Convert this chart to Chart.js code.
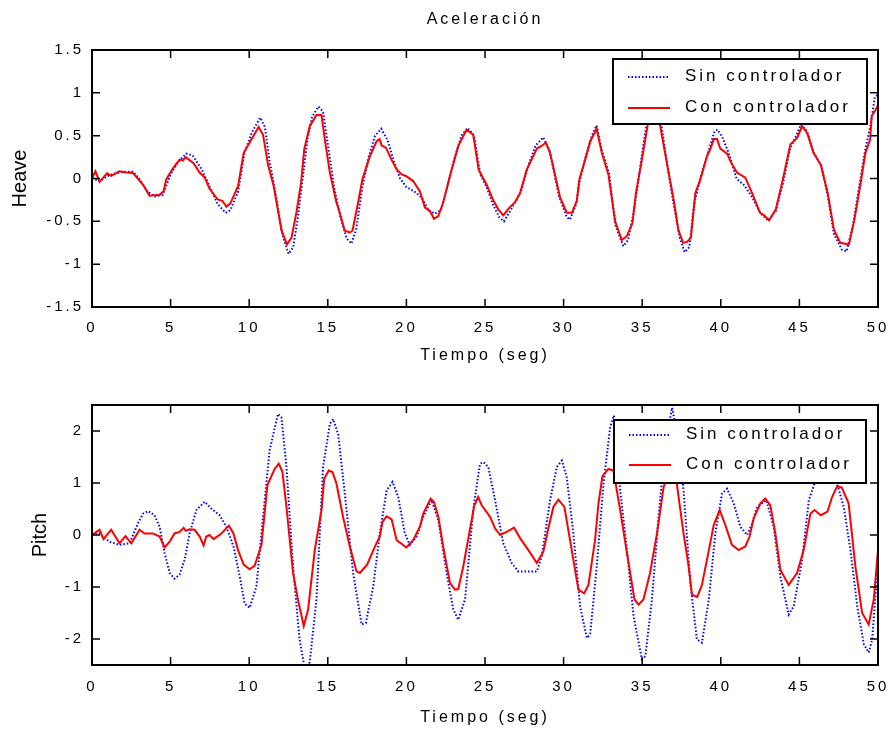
<!DOCTYPE html>
<html>
<head>
<meta charset="utf-8">
<script src="https://cdn.jsdelivr.net/npm/chart.js@4.4.1/dist/chart.umd.min.js"></script>
<style>
body { margin: 0; background: #fff; }
canvas { position: absolute; left: 0; }
#heaveChart { top: 0; }
#pitchChart { top: 370px; }
</style>
</head>
<body>
<canvas id="heaveChart" width="894" height="370"></canvas>
<canvas id="pitchChart" width="894" height="361"></canvas>
<script>
// tick labels
const timeTicks = [0, 5, 10, 15, 20, 25, 30, 35, 40, 45, 50];
const heaveTicks = [-1.5, -1, -0.5, 0, 0.5, 1, 1.5];
const pitchTicks = [-2, -1, 0, 1, 2];
const seriesLabels = ['Sin controlador', 'Con controlador'];

// HEAVE - sin controlador
const heaveSinT = [0, 0.5, 1, 1.5, 2, 2.6, 3, 3.5, 4, 4.5, 5, 5.5, 6, 6.4, 7, 7.5, 8, 8.5, 8.8, 9.3, 9.7, 10.2, 10.7, 11, 11.3, 11.7, 12.1, 12.5, 12.8, 13.1, 13.4, 13.7, 14, 14.4, 14.7, 15, 15.4, 15.8, 16.2, 16.5, 16.8, 17.2, 17.6, 18, 18.4, 18.8, 19.2, 19.6, 20, 20.5, 21, 21.4, 21.8, 22.2, 22.6, 23, 23.5, 23.9, 24.3, 24.7, 25.1, 25.5, 25.9, 26.2, 26.6, 27, 27.3, 27.7, 28.2, 28.7, 29.1, 29.7, 30.2, 30.4, 30.8, 31, 31.4, 31.8, 32.1, 32.4, 32.9, 33.3, 33.8, 34.1, 34.4, 34.7, 35, 35.4, 35.8, 36.2, 36.6, 37, 37.4, 37.7, 38, 38.3, 38.7, 39.1, 39.6, 39.8, 40.1, 40.5, 41, 41.5, 42, 42.5, 43, 43.5, 44, 44.4, 44.8, 45.1, 45.5, 45.9, 46.4, 46.8, 47.2, 47.7, 48, 48.4, 48.8, 49.2, 49.5, 49.8, 50];
const heaveSinY = [0, -0.03, 0.03, 0.06, 0.08, 0.08, 0, -0.15, -0.21, -0.19, 0.05, 0.2, 0.29, 0.27, 0.1, -0.1, -0.3, -0.4, -0.37, -0.15, 0.3, 0.55, 0.71, 0.6, 0.2, -0.2, -0.65, -0.88, -0.8, -0.45, 0, 0.45, 0.72, 0.84, 0.78, 0.4, -0.1, -0.45, -0.7, -0.76, -0.6, -0.1, 0.25, 0.5, 0.58, 0.45, 0.2, 0, -0.1, -0.15, -0.23, -0.37, -0.41, -0.37, -0.1, 0.2, 0.5, 0.59, 0.5, 0.05, -0.1, -0.3, -0.45, -0.5, -0.38, -0.25, -0.15, 0.12, 0.38, 0.48, 0.33, -0.2, -0.45, -0.48, -0.3, -0.05, 0.25, 0.5, 0.62, 0.35, 0.05, -0.55, -0.79, -0.72, -0.45, -0.1, 0.3, 0.78, 0.95, 0.65, 0.15, -0.3, -0.7, -0.86, -0.8, -0.3, 0, 0.25, 0.55, 0.57, 0.48, 0.3, 0, -0.08, -0.22, -0.4, -0.49, -0.38, -0.02, 0.35, 0.5, 0.63, 0.55, 0.3, 0.15, -0.2, -0.65, -0.83, -0.85, -0.55, -0.1, 0.35, 0.6, 0.95, 0.98];

// HEAVE - con controlador
const heaveConT = [0, 0.22, 0.48, 0.95, 1.22, 1.75, 2.18, 2.6, 3.24, 3.66, 4.3, 4.55, 4.72, 5.15, 5.57, 5.78, 5.96, 6.46, 6.85, 7.17, 7.48, 8, 8.29, 8.55, 8.8, 9.29, 9.65, 10.03, 10.6, 10.88, 11.2, 11.56, 12.05, 12.4, 12.69, 13, 13.3, 13.5, 13.85, 14.28, 14.6, 14.8, 15.13, 15.55, 15.76, 16.08, 16.4, 16.57, 16.93, 17.2, 17.68, 18.1, 18.3, 18.42, 18.7, 19.05, 19.38, 19.7, 20, 20.43, 20.86, 21.18, 21.5, 21.75, 22.03, 22.34, 22.77, 23.3, 23.83, 24.25, 24.6, 25.1, 25.5, 25.85, 26.16, 26.55, 26.9, 27.23, 27.65, 28.3, 28.6, 28.87, 29.14, 29.78, 30.2, 30.52, 30.84, 31, 31.37, 31.7, 32.1, 32.43, 32.85, 33.28, 33.7, 34.03, 34.38, 34.6, 34.98, 35.4, 35.8, 36.15, 36.57, 37, 37.3, 37.6, 37.85, 38.1, 38.38, 38.7, 39.12, 39.33, 39.55, 39.76, 39.97, 40.4, 40.67, 41.03, 41.56, 41.99, 42.5, 42.76, 43.07, 43.5, 43.9, 44.43, 44.85, 45.17, 45.5, 45.9, 46.36, 46.8, 47.2, 47.6, 48.15, 48.5, 48.9, 49.2, 49.5, 49.6, 49.9, 50];
const heaveConY = [0, 0.085, -0.04, 0.06, 0.03, 0.085, 0.07, 0.065, -0.07, -0.2, -0.19, -0.15, -0.01, 0.12, 0.22, 0.21, 0.25, 0.18, 0.07, 0.01, -0.12, -0.245, -0.26, -0.33, -0.29, -0.09, 0.3, 0.42, 0.6, 0.51, 0.16, -0.09, -0.6, -0.77, -0.69, -0.4, -0.05, 0.34, 0.61, 0.74, 0.74, 0.47, 0.07, -0.28, -0.4, -0.61, -0.63, -0.61, -0.28, -0.01, 0.26, 0.435, 0.46, 0.385, 0.36, 0.22, 0.105, 0.047, 0.027, -0.03, -0.15, -0.34, -0.38, -0.47, -0.44, -0.28, 0.03, 0.38, 0.57, 0.51, 0.1, -0.07, -0.245, -0.36, -0.43, -0.34, -0.28, -0.17, 0.1, 0.35, 0.38, 0.42, 0.3, -0.225, -0.4, -0.4, -0.26, -0.01, 0.22, 0.435, 0.58, 0.3, 0.047, -0.5, -0.72, -0.67, -0.52, -0.17, 0.22, 0.68, 0.82, 0.61, 0.18, -0.245, -0.6, -0.75, -0.74, -0.69, -0.17, -0.01, 0.26, 0.34, 0.46, 0.46, 0.35, 0.29, 0.18, 0.07, 0.01, -0.17, -0.4, -0.43, -0.49, -0.36, -0.05, 0.4, 0.47, 0.61, 0.53, 0.3, 0.16, -0.17, -0.6, -0.75, -0.77, -0.48, -0.05, 0.3, 0.455, 0.73, 0.82, 0.86];

// PITCH - sin controlador
const pitchSinT = [0, 0.48, 1.11, 1.75, 2.39, 2.92, 3.24, 3.56, 3.98, 4.3, 4.62, 4.94, 5.25, 5.57, 5.89, 6.21, 6.64, 7.17, 7.59, 8.12, 8.55, 9, 9.4, 9.71, 10.03, 10.46, 10.88, 11.3, 11.83, 12.05, 12.37, 12.79, 13.2, 13.55, 13.85, 14.28, 14.7, 15.13, 15.34, 15.66, 16.08, 16.61, 17.15, 17.42, 17.89, 18.31, 18.74, 19.12, 19.48, 19.9, 20.22, 20.65, 21.07, 21.6, 22.03, 22.56, 22.98, 23.3, 23.73, 24.25, 24.68, 24.89, 25.21, 25.64, 26.16, 26.7, 27.12, 28.3, 28.61, 29.14, 29.57, 29.89, 30.2, 30.62, 31.05, 31.48, 31.69, 32.11, 32.54, 32.96, 33.2, 33.6, 34.03, 34.45, 34.98, 35.2, 35.62, 36.04, 36.47, 36.9, 37.3, 37.63, 38.06, 38.48, 38.8, 39.24, 39.65, 40.08, 40.4, 40.82, 41.24, 41.67, 41.99, 42.3, 42.9, 43.36, 43.79, 44.32, 44.64, 45.17, 45.6, 46.2, 46.8, 47.4, 47.82, 48.25, 48.68, 49.1, 49.41, 49.63, 49.95, 50];
const pitchSinY = [0, 0.03, -0.13, -0.19, -0.16, 0.22, 0.41, 0.46, 0.38, 0.16, -0.35, -0.73, -0.84, -0.76, -0.48, 0.03, 0.48, 0.64, 0.51, 0.38, 0.16, -0.22, -0.8, -1.32, -1.4, -0.99, 0.35, 1.63, 2.33, 2.26, 1.31, -0.6, -2.0, -2.6, -2.45, -1.24, 1.31, 2.14, 2.23, 1.94, 0.8, -0.73, -1.72, -1.69, -0.99, 0.03, 0.86, 1.02, 0.73, 0.03, -0.19, -0.03, 0.35, 0.67, 0.29, -0.73, -1.43, -1.63, -1.24, 0.48, 1.37, 1.4, 1.31, 0.67, -0.16, -0.54, -0.7, -0.7, -0.41, 0.67, 1.31, 1.43, 1.11, 0.03, -1.37, -1.98, -1.91, -0.6, 0.99, 2.07, 2.3, 0.86, -0.29, -1.56, -2.39, -2.33, -1.24, 0.35, 1.75, 2.45, 1.82, 0.86, -0.92, -2.01, -2.07, -1.24, 0.03, 0.8, 0.89, 0.61, 0.16, 0, 0.22, 0.54, 0.67, 0.16, -0.8, -1.53, -1.37, -0.48, 0.67, 1.2, 1.2, 0.99, 0.54, -0.29, -1.37, -2.1, -2.26, -2.01, -0.73, -0.3];

// PITCH - con controlador
const pitchConT = [0, 0.48, 0.73, 1.22, 1.75, 2.13, 2.5, 3.03, 3.34, 3.87, 4.3, 4.62, 4.94, 5.25, 5.57, 5.83, 5.96, 6.21, 6.53, 6.85, 7.1, 7.27, 7.48, 7.74, 8.23, 8.71, 9, 9.29, 9.65, 10.03, 10.35, 10.78, 11.16, 11.62, 11.88, 12.11, 12.37, 12.79, 13.1, 13.47, 13.75, 14.17, 14.6, 14.77, 15.06, 15.3, 15.55, 15.97, 16.4, 16.83, 17.04, 17.5, 18, 18.31, 18.48, 18.74, 19.06, 19.38, 19.7, 20, 20.43, 20.86, 21.07, 21.54, 21.75, 22.03, 22.34, 22.77, 23.09, 23.3, 23.62, 24.04, 24.32, 24.57, 24.79, 25.32, 25.64, 25.96, 26.38, 26.85, 27.23, 27.76, 28.3, 28.71, 29.03, 29.35, 29.67, 30.05, 30.41, 30.94, 31.31, 31.58, 32, 32.22, 32.47, 32.85, 33.17, 33.6, 34.03, 34.51, 34.77, 35.08, 35.5, 35.94, 36.36, 36.8, 37.2, 37.63, 37.95, 38.17, 38.5, 38.8, 39.24, 39.55, 39.93, 40.29, 40.71, 41.13, 41.56, 41.83, 42.09, 42.52, 42.83, 43.15, 43.47, 43.79, 44.32, 44.85, 45.27, 45.7, 45.96, 46.36, 46.79, 47.08, 47.4, 47.7, 48.13, 48.56, 48.99, 49.41, 49.73, 50];
const pitchConY = [0, 0.1, -0.08, 0.1, -0.16, -0.02, -0.16, 0.1, 0.03, 0.03, -0.03, -0.24, -0.13, 0.03, 0.06, 0.14, 0.08, 0.11, 0.1, -0.03, -0.2, -0.03, 0, -0.08, 0.03, 0.18, 0.03, -0.29, -0.57, -0.66, -0.59, -0.19, 0.96, 1.27, 1.37, 1.22, 0.54, -0.73, -1.24, -1.75, -1.43, -0.29, 0.48, 1.08, 1.24, 1.21, 0.99, 0.35, -0.22, -0.7, -0.73, -0.57, -0.22, -0.03, 0.25, 0.36, 0.3, -0.1, -0.17, -0.24, -0.1, 0.16, 0.41, 0.7, 0.64, 0.35, -0.22, -0.92, -1.05, -1.04, -0.6, 0.1, 0.57, 0.73, 0.57, 0.35, 0.13, 0, 0.06, 0.14, -0.06, -0.29, -0.54, -0.32, 0.13, 0.54, 0.68, 0.54, -0.1, -1.05, -1.12, -0.96, -0.1, 0.61, 1.13, 1.27, 1.24, 0.48, -0.35, -1.24, -1.34, -1.24, -0.73, 0.03, 0.92, 1.3, 0.99, 0.03, -0.6, -1.15, -1.19, -0.96, -0.29, 0.19, 0.48, 0.19, -0.19, -0.29, -0.22, -0.03, 0.32, 0.61, 0.7, 0.57, 0.03, -0.67, -0.96, -0.73, -0.29, 0.41, 0.48, 0.38, 0.45, 0.73, 0.94, 0.91, 0.61, -0.6, -1.5, -1.72, -1.24, -0.29];

Chart.defaults.font.family = "'Liberation Sans', Arial, sans-serif";
Chart.defaults.color = '#000';

function toPoints(t, y) {
    return t.map((v, i) => ({ x: v, y: y[i] }));
}

// box, inward ticks and spaced lettering like the old matlab figure
const frameTicks = {
    id: 'frameTicks',
    beforeDraw(chart) {
        chart.ctx.letterSpacing = '3px';
    },
    afterLayout(chart) {
        const s = chart.scales.y;
        if (!s._plainTitle) {
            const orig = s.drawTitle;
            s.drawTitle = function () {
                this.ctx.save();
                this.ctx.letterSpacing = '0px';
                orig.call(this);
                this.ctx.restore();
            };
            s._plainTitle = true;
        }
    },
    afterDatasetsDraw(chart) {
        const { ctx, chartArea: a, scales } = chart;
        ctx.save();
        ctx.strokeStyle = '#000';
        ctx.lineWidth = 1.5;
        ctx.beginPath();
        scales.x.ticks.forEach(t => {
            const px = scales.x.getPixelForValue(t.value);
            ctx.moveTo(px, a.bottom); ctx.lineTo(px, a.bottom - 8);
            ctx.moveTo(px, a.top); ctx.lineTo(px, a.top + 8);
        });
        scales.y.ticks.forEach(t => {
            const py = scales.y.getPixelForValue(t.value);
            ctx.moveTo(a.left, py); ctx.lineTo(a.left + 8, py);
            ctx.moveTo(a.right, py); ctx.lineTo(a.right - 8, py);
        });
        ctx.stroke();
        ctx.lineWidth = 2;
        ctx.strokeRect(a.left, a.top, a.right - a.left, a.bottom - a.top);
        ctx.restore();
    }
};

const boxLegend = {
    id: 'boxLegend',
    afterDraw(chart, args, opts) {
        const { ctx, chartArea: a } = chart;
        const left = a.right - opts.offsetRight - opts.width;
        const top = a.top + opts.offsetTop;
        ctx.save();
        ctx.fillStyle = '#fff';
        ctx.fillRect(left, top, opts.width, opts.height);
        ctx.strokeStyle = '#000';
        ctx.lineWidth = 2;
        ctx.strokeRect(left, top, opts.width, opts.height);
        chart.data.datasets.forEach((ds, i) => {
            const yy = top + opts.rows[i];
            ctx.strokeStyle = ds.borderColor;
            ctx.lineWidth = ds.borderWidth;
            ctx.setLineDash(ds.borderDash || []);
            ctx.beginPath();
            ctx.moveTo(left + 15, yy + 1);
            ctx.lineTo(left + 57, yy + 1);
            ctx.stroke();
            ctx.setLineDash([]);
            ctx.fillStyle = '#000';
            ctx.font = "17px 'Liberation Sans', Arial, sans-serif";
            ctx.textBaseline = 'middle';
            ctx.textAlign = 'left';
            ctx.letterSpacing = '3px';
            ctx.fillText(ds.label, left + 72, yy);
        });
        ctx.restore();
    }
};

function makeDatasets(sinT, sinY, conT, conY) {
    return [{
        label: seriesLabels[0],
        data: toPoints(sinT, sinY),
        borderColor: '#0000ff',
        borderWidth: 2,
        borderDash: [1.5, 2],
        order: 1
    }, {
        label: seriesLabels[1],
        data: toPoints(conT, conY),
        borderColor: '#ff0000',
        borderWidth: 2,
        order: 0
    }];
}

function xScale(height, pad, titlePad) {
    return {
        type: 'linear',
        min: 0,
        max: 50,
        afterBuildTicks: s => { s.ticks = timeTicks.map(v => ({ value: v })); },
        afterFit: s => { s.height = height; s.paddingLeft = 0; s.paddingRight = 0; },
        grid: { display: false, drawTicks: false },
        border: { display: false },
        ticks: { padding: pad, font: { size: 15 }, maxRotation: 0, autoSkip: false, callback: v => String(v) },
        title: { display: true, text: 'Tiempo (seg)', font: { size: 16 }, padding: { top: 0, bottom: titlePad } }
    };
}

function yScale(min, max, tickList, label, titlePad) {
    return {
        type: 'linear',
        min: min,
        max: max,
        afterBuildTicks: s => { s.ticks = tickList.map(v => ({ value: v })); },
        afterFit: s => { s.width = 92; s.paddingTop = 0; s.paddingBottom = 0; },
        grid: { display: false, drawTicks: false },
        border: { display: false },
        ticks: { padding: 8, font: { size: 15 }, callback: v => String(v) },
        title: { display: true, text: label, font: { size: 20 }, padding: { top: titlePad, bottom: 0 } }
    };
}

const baseOptions = {
    responsive: false,
    animation: false,
    devicePixelRatio: 1,
    showLine: true,
    elements: { point: { radius: 0 }, line: { tension: 0, fill: false } }
};

const heaveChart = new Chart(document.getElementById('heaveChart').getContext('2d'), {
    type: 'scatter',
    data: { datasets: makeDatasets(heaveSinT, heaveSinY, heaveConT, heaveConY) },
    options: Object.assign({}, baseOptions, {
        layout: { padding: { left: 0, right: 16, top: 0, bottom: 0 } },
        scales: {
            x: xScale(63, 12, 5),
            y: yScale(-1.5, 1.5, heaveTicks, 'Heave', 8)
        },
        plugins: {
            legend: { display: false },
            tooltip: { enabled: false },
            title: {
                display: true,
                text: 'Aceleración',
                fullSize: false,
                font: { size: 16, weight: 'normal' },
                color: '#000',
                padding: { top: 10, bottom: 20.8 }
            },
            boxLegend: { offsetRight: 11, offsetTop: 9, width: 254, height: 65, rows: [17, 48] }
        }
    }),
    plugins: [frameTicks, boxLegend]
});

const pitchChart = new Chart(document.getElementById('pitchChart').getContext('2d'), {
    type: 'scatter',
    data: { datasets: makeDatasets(pitchSinT, pitchSinY, pitchConT, pitchConY) },
    options: Object.assign({}, baseOptions, {
        layout: { padding: { left: 0, right: 16, top: 35, bottom: 0 } },
        scales: {
            x: xScale(66, 13, 4),
            y: yScale(-2.5, 2.5, pitchTicks, 'Pitch', 28)
        },
        plugins: {
            legend: { display: false },
            tooltip: { enabled: false },
            boxLegend: { offsetRight: 12, offsetTop: 15, width: 252, height: 63, rows: [14, 44] }
        }
    }),
    plugins: [frameTicks, boxLegend]
});
</script>
</body>
</html>
